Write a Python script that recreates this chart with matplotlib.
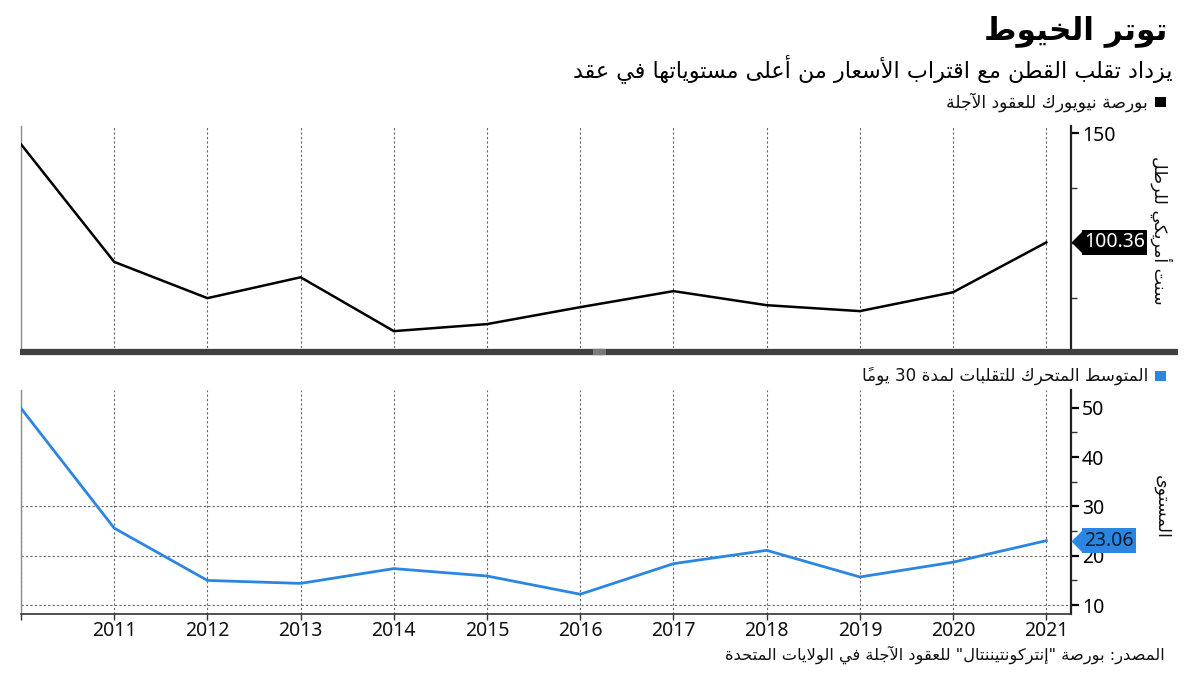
import matplotlib
matplotlib.use('Agg')
import matplotlib.pyplot as plt
from matplotlib.patches import Rectangle
from matplotlib.lines import Line2D

# ---------------- data ----------------
years = list(range(2010, 2022))
price = [145.0, 91.5, 75.0, 84.5, 60.0, 63.2, 70.9, 78.2, 71.8, 69.1, 77.7, 100.36]
volatility = [49.9, 25.6, 15.0, 14.4, 17.4, 15.9, 12.2, 18.4, 21.1, 15.7, 18.7, 23.06]
year_labels = ['', '2011', '2012', '2013', '2014', '2015', '2016', '2017', '2018', '2019', '2020', '2021']
price_ticks = [150]
price_minor = [75, 100, 125]
vol_ticks = [10, 20, 30, 40, 50]
vol_minor = [15, 25, 35, 45]
vol_grid = [10, 20, 30]

title_text = 'توتر الخيوط'
subtitle_text = 'يزداد تقلب القطن مع اقتراب الأسعار من أعلى مستوياتها في عقد'
legend_price = 'بورصة نيويورك للعقود الآجلة'
legend_vol = 'المتوسط المتحرك للتقلبات لمدة 30 يوماً'
ylabel_price = 'سنت أمريكي للرطل'
ylabel_vol = 'المستوى'
source_text = 'المصدر: بورصة "إنتركونتيننتال" للعقود الآجلة في الولايات المتحدة'

BLUE = '#2b86e2'

# ---------------- Arabic shaping (presentation forms + RTL order) ----------------
DUAL = {0x0626: 0xFE89, 0x0628: 0xFE8F, 0x062A: 0xFE95, 0x062B: 0xFE99, 0x062C: 0xFE9D,
        0x062D: 0xFEA1, 0x062E: 0xFEA5, 0x0633: 0xFEB1, 0x0634: 0xFEB5, 0x0635: 0xFEB9,
        0x0636: 0xFEBD, 0x0637: 0xFEC1, 0x0638: 0xFEC5, 0x0639: 0xFEC9, 0x063A: 0xFECD,
        0x0641: 0xFED1, 0x0642: 0xFED5, 0x0643: 0xFED9, 0x0644: 0xFEDD, 0x0645: 0xFEE1,
        0x0646: 0xFEE5, 0x0647: 0xFEE9, 0x064A: 0xFEF1}
RIGHT = {0x0622: 0xFE81, 0x0623: 0xFE83, 0x0624: 0xFE85, 0x0625: 0xFE87, 0x0627: 0xFE8D,
         0x0629: 0xFE93, 0x062F: 0xFEA9, 0x0630: 0xFEAB, 0x0631: 0xFEAD, 0x0632: 0xFEAF,
         0x0648: 0xFEED, 0x0649: 0xFEEF}
LAMALEF = {0x0622: 0xFEF5, 0x0623: 0xFEF7, 0x0625: 0xFEF9, 0x0627: 0xFEFB}


def _is_mark(c):
    return 0x064B <= ord(c) <= 0x0652


def _is_letter(c):
    return ord(c) in DUAL or ord(c) in RIGHT


def shape_ar(text):
    chars = list(text)
    n = len(chars)

    def prev_base(i):
        j = i - 1
        while j >= 0 and _is_mark(chars[j]):
            j -= 1
        return chars[j] if j >= 0 else None

    def next_base(i):
        j = i + 1
        while j < n and _is_mark(chars[j]):
            j += 1
        return (chars[j], j) if j < n else (None, j)

    clusters = []
    i = 0
    while i < n:
        c = chars[i]
        if _is_mark(c):
            if clusters:
                clusters[-1] = (clusters[-1][0] + c, clusters[-1][1])
            else:
                clusters.append((c, 'r'))
            i += 1
            continue
        if _is_letter(c):
            p = prev_base(i)
            jp = p is not None and ord(p) in DUAL
            nx, nj = next_base(i)
            if ord(c) == 0x0644 and nx is not None and ord(nx) in LAMALEF:
                g = chr(LAMALEF[ord(nx)] + (1 if jp else 0))
                marks = ''.join(ch for ch in chars[i + 1:nj] if _is_mark(ch))
                clusters.append((g + marks, 'r'))
                i = nj + 1
                continue
            jn = ord(c) in DUAL and nx is not None and _is_letter(nx)
            cp = ord(c)
            if cp in DUAL:
                g = DUAL[cp] + (3 if (jp and jn) else 1 if jp else 2 if jn else 0)
            else:
                g = RIGHT[cp] + (1 if jp else 0)
            clusters.append((chr(g), 'r'))
        elif c.isascii() and c.isalnum():
            clusters.append((c, 'l'))
        else:
            clusters.append((c, 'n'))
        i += 1

    groups = []
    for s, t in clusters:
        if t == 'l' and groups and groups[-1][1] == 'l':
            groups[-1][0] += s
        else:
            groups.append([s, t])
    return ''.join(g[0] for g in reversed(groups))


AR = ['DejaVu Sans']
NUM = ['Noto Sans', 'DejaVu Sans']
plt.rcParams['font.family'] = NUM

# ---------------- figure ----------------
fig = plt.figure(figsize=(12, 6.75), dpi=100)
fig.patch.set_facecolor('white')

ax1 = fig.add_axes([0.0175, 0.4785, 0.8750, 0.3348])
ax2 = fig.add_axes([0.0175, 0.0904, 0.8750, 0.3318])

xlim = (2010, 2021.265)

# --- top panel
ax1.plot(years, price, color='black', lw=1.8, solid_joinstyle='miter', zorder=3)
ax1.set_xlim(*xlim)
ax1.set_ylim(50.5, 153.3)
ax1.set_xticks(years[1:])
ax1.tick_params(axis='x', length=0, labelbottom=False)
ax1.grid(axis='x', color='#666666', lw=0.8, linestyle=(0, (2, 2)))
ax1.yaxis.tick_right()
ax1.set_yticks(price_ticks)
ax1.set_yticks(price_minor, minor=True)
ax1.tick_params(axis='y', which='major', direction='out', length=6, width=1.6,
                labelsize=14, pad=2, colors='black')
ax1.tick_params(axis='y', which='minor', direction='out', length=4, width=1.0, color='#333333')
for s in ['top', 'bottom']:
    ax1.spines[s].set_visible(False)
ax1.spines['left'].set_color('#8a8a8a')
ax1.spines['left'].set_linewidth(1.0)
ax1.spines['right'].set_color('#222222')
ax1.spines['right'].set_linewidth(1.6)

# thick separator under the top panel
ax1.add_line(Line2D([-0.001, 1.1018], [0, 0], transform=ax1.transAxes, lw=4.5,
                    color='#3f3f3f', clip_on=False, zorder=5, solid_capstyle='butt'))
ax1.add_line(Line2D([0.5452, 0.5576], [0, 0], transform=ax1.transAxes, lw=4.5,
                    color='#7a7a7a', clip_on=False, zorder=6, solid_capstyle='butt'))

# --- bottom panel
ax2.plot(years, volatility, color=BLUE, lw=2.0, zorder=3)
ax2.set_xlim(*xlim)
ax2.set_ylim(8.2, 53.6)
ax2.set_xticks(years)
ax2.set_xticklabels(year_labels)
ax2.tick_params(axis='x', direction='out', length=4, width=1.0, color='#333333',
                labelsize=14, pad=1, labelcolor='#111111')
ax2.grid(axis='x', color='#666666', lw=0.8, linestyle=(0, (2, 2)))
for v in vol_grid:
    ax2.axhline(v, color='#666666', lw=0.8, linestyle=(0, (2, 2)), zorder=1)
ax2.yaxis.tick_right()
ax2.set_yticks(vol_ticks)
ax2.set_yticks(vol_minor, minor=True)
ax2.tick_params(axis='y', which='major', direction='out', length=6, width=1.6,
                labelsize=14, pad=2, colors='black')
ax2.tick_params(axis='y', which='minor', direction='out', length=4, width=1.0, color='#333333')
ax2.spines['top'].set_visible(False)
ax2.spines['left'].set_color('#8a8a8a')
ax2.spines['left'].set_linewidth(1.0)
ax2.spines['bottom'].set_color('#333333')
ax2.spines['bottom'].set_linewidth(1.2)
ax2.spines['right'].set_color('#222222')
ax2.spines['right'].set_linewidth(1.6)

# --- last value tags
arrow_marker = [(0, 0), (1, 1), (1, -1), (0, 0)]
for ax, vals, fc, tc in [(ax1, price, 'black', 'white'), (ax2, volatility, BLUE, '#0d1b2a')]:
    tr = ax.get_yaxis_transform()
    ax.plot([1], [vals[-1]], marker=arrow_marker, ms=16, color=fc, mec='none',
            transform=tr, clip_on=False, zorder=6)
    ax.annotate(f'{vals[-1]:.2f}', xy=(1, vals[-1]), xycoords=tr, xytext=(9.5, 0),
                textcoords='offset points', ha='left', va='center', color=tc, fontsize=14,
                bbox=dict(boxstyle='square,pad=0.12', fc=fc, ec='none'),
                annotation_clip=False, zorder=7)

# --- axis titles (right side, vertical)
fig.text(0.968, 0.659, shape_ar(ylabel_price), rotation=270, ha='center', va='center',
         fontsize=12.5, family=AR, color='#111111')
fig.text(0.968, 0.249, shape_ar(ylabel_vol), rotation=270, ha='center', va='center',
         fontsize=12.5, family=AR, color='#111111')

# --- titles
fig.text(0.973, 0.954, shape_ar(title_text), ha='right', va='center', fontsize=22.5,
         fontweight='bold', family=AR, color='black')
fig.text(0.977, 0.898, shape_ar(subtitle_text), ha='right', va='center', fontsize=16,
         family=AR, color='black')

# --- legends
fig.patches.append(Rectangle((1155 / 1200, 1 - 107 / 675), 11 / 1200, 10 / 675,
                             transform=fig.transFigure, fc='black', ec='none'))
fig.text(1148 / 1200, 1 - 102 / 675, shape_ar(legend_price), ha='right', va='center',
         fontsize=12.3, family=AR, color='#111111')
fig.patches.append(Rectangle((1155 / 1200, 1 - 381 / 675), 11 / 1200, 10 / 675,
                             transform=fig.transFigure, fc=BLUE, ec='none'))
fig.text(1148 / 1200, 1 - 376 / 675, shape_ar(legend_vol), ha='right', va='center',
         fontsize=12.1, family=AR, color='#111111')

# --- source
fig.text(1165 / 1200, 1 - 655 / 675, shape_ar(source_text), ha='right', va='center',
         fontsize=11.7, family=AR, color='#111111')

fig.savefig('out.png', dpi=100, facecolor='white')
